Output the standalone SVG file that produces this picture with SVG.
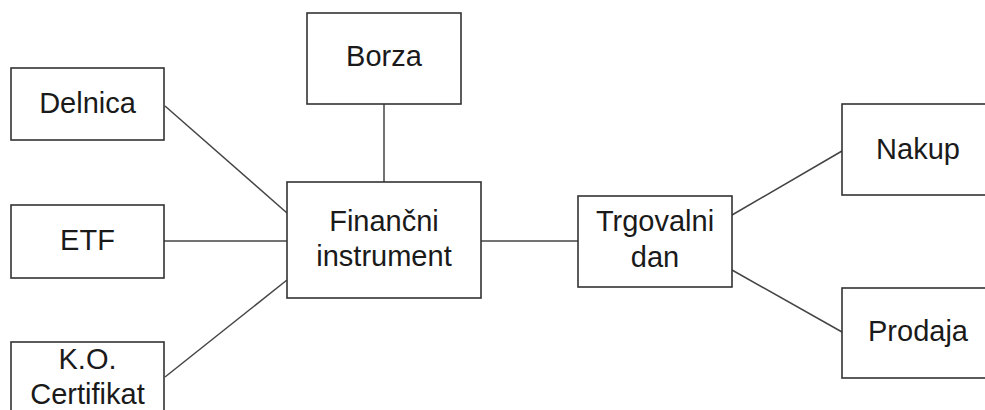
<svg xmlns="http://www.w3.org/2000/svg" width="985" height="410" viewBox="0 0 985 410">
  <style>
    .box { fill: #ffffff; stroke: #333333; stroke-width: 1.6; }
    .lbl { font-family: "Liberation Sans", Arial, sans-serif; font-size: 29px; fill: #1a1a1a; text-anchor: middle; }
    .conn { stroke: #444444; stroke-width: 1.5; fill: none; }
  </style>
  <rect width="985" height="410" fill="#ffffff"/>

  <g id="connectors">
    <line class="conn" x1="165" y1="106" x2="287" y2="213"/>
    <line class="conn" x1="164" y1="241" x2="287" y2="241"/>
    <line class="conn" x1="165" y1="377" x2="287" y2="280"/>
    <line class="conn" x1="384" y1="104" x2="384" y2="183"/>
    <line class="conn" x1="481" y1="241" x2="578" y2="241"/>
    <line class="conn" x1="732" y1="215" x2="842" y2="151"/>
    <line class="conn" x1="732" y1="270" x2="842" y2="332"/>
  </g>

  <g id="borza">
    <rect class="box" x="307" y="13" width="154" height="91"/>
    <text class="lbl" x="384" y="66">Borza</text>
  </g>
  <g id="delnica">
    <rect class="box" x="11" y="68" width="153" height="72"/>
    <text class="lbl" x="87.5" y="113">Delnica</text>
  </g>
  <g id="etf">
    <rect class="box" x="11" y="205" width="153" height="73"/>
    <text class="lbl" x="87.5" y="250">ETF</text>
  </g>
  <g id="ko-certifikat">
    <rect class="box" x="11" y="342" width="153" height="90"/>
    <text class="lbl" x="87.5" y="369">K.O.</text>
    <text class="lbl" x="87.5" y="404">Certifikat</text>
  </g>
  <g id="financni-instrument">
    <rect class="box" x="287" y="182" width="194" height="116"/>
    <text class="lbl" x="384" y="231">Finančni</text>
    <text class="lbl" x="384" y="266">instrument</text>
  </g>
  <g id="trgovalni-dan">
    <rect class="box" x="578" y="196" width="154" height="91"/>
    <text class="lbl" x="655" y="231">Trgovalni</text>
    <text class="lbl" x="655" y="267">dan</text>
  </g>
  <g id="nakup">
    <rect class="box" x="842" y="104" width="152" height="91"/>
    <text class="lbl" x="918" y="159">Nakup</text>
  </g>
  <g id="prodaja">
    <rect class="box" x="842" y="288" width="152" height="90"/>
    <text class="lbl" x="918" y="341">Prodaja</text>
  </g>
</svg>
